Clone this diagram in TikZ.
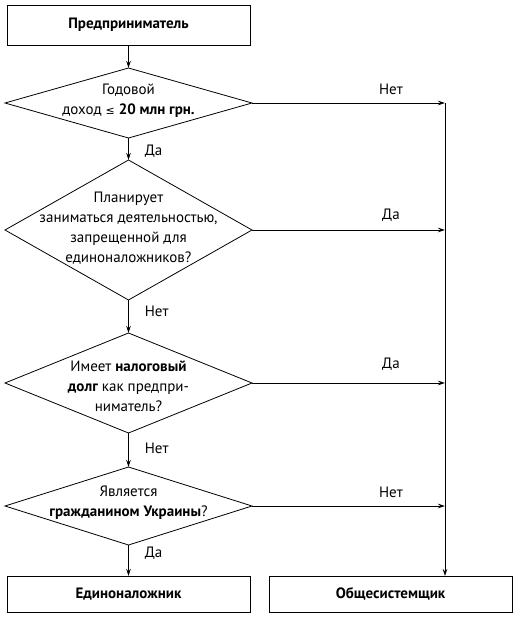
\documentclass[tikz,border=0pt]{standalone}
\usepackage{fontspec}
\setmainfont{PT Sans}
\newfontfamily\symfont{DejaVu Sans}
\usetikzlibrary{shapes.geometric, arrows.meta, positioning}
\newcommand{\chartfont}{\fontsize{15}{20}\selectfont}
\tikzstyle{term} = [rectangle, draw=black, outer sep=0pt, minimum width=243pt, minimum height=40pt, text centered, font=\chartfont\bfseries]
\tikzstyle{decision} = [diamond, draw=black, outer sep=0pt, minimum width=247pt, inner sep=0pt, aspect=3.5]
\tikzstyle{question} = [align=center, inner sep=0pt]
\tikzstyle{answer} = [inner sep=2pt]
\tikzstyle{arrow} = [->, >={Stealth[length=7pt,width=4.5pt]}]

\begin{document}
\begin{tikzpicture}[x=1pt, y=1pt, line width=0.8pt, font=\chartfont]
\useasboundingbox (0,0) rectangle (519,-619);

\node (ent) [term] at (128.5,-25) {Предприниматель};

\node (inc) [decision, minimum height=70pt, below=23pt of ent] {};
\node (inct) [question, yshift=2pt] at (inc.center) {Годовой\\доход {\symfont\fontsize{11}{12}\selectfont≤} \textbf{20 млн грн.}};

\node (ban) [decision, minimum height=140pt, below=22pt of inc] {};
\node (bant) [question, yshift=2pt] at (ban.center) {Планирует\\заниматься деятельностью,\\запрещенной для\\единоналожников?};

\node (debt) [decision, minimum height=100pt, below=33pt of ban] {};
\node (debtt) [question, yshift=-3pt] at (debt.center) {Имеет \textbf{налоговый}\\\textbf{долг} как предпри-\\ниматель?};

\node (cit) [decision, minimum height=78pt, below=34pt of debt] {};
\node (citt) [question, yshift=3pt] at (cit.center) {Является\\\textbf{гражданином Украины}?};

\node (single) [term, minimum height=36pt, below=31pt of cit] {Единоналожник};
\node (gen) [term, minimum height=36pt, right=19pt of single] {Общесистемщик};

\coordinate (col) at ([xshift=193pt]inc.east);

% main column
\draw [arrow] (ent) -- (inc);
\draw [arrow] (inc) -- node (a1) [answer, pos=0.6, right=14pt] {Да} (ban);
\draw [arrow] (ban) -- node (a2) [answer, pos=0.33, right=14pt] {Нет} (debt);
\draw [arrow] (debt) -- node (a3) [answer, pos=0.44, right=14pt] {Нет} (cit);
\draw [arrow] (cit) -- node (a4) [answer, pos=0.26, right=14pt] {Да} (single);

% exits to the right
\draw [arrow] (inc.east) -- node (b1) [answer, pos=0.72, above=6pt] {Нет} (inc.east -| col);
\draw [arrow] (ban.east) -- node (b2) [answer, pos=0.72, above=6pt] {Да} (ban.east -| col);
\draw [arrow] (debt.east) -- node (b3) [answer, pos=0.72, above=10pt] {Да} (debt.east -| col);
\draw [arrow] (cit.east) -- node (b4) [answer, pos=0.72, above=6pt] {Нет} (cit.east -| col);
\draw [arrow] (col) -- (col |- gen.north);

\end{tikzpicture}
\end{document}
